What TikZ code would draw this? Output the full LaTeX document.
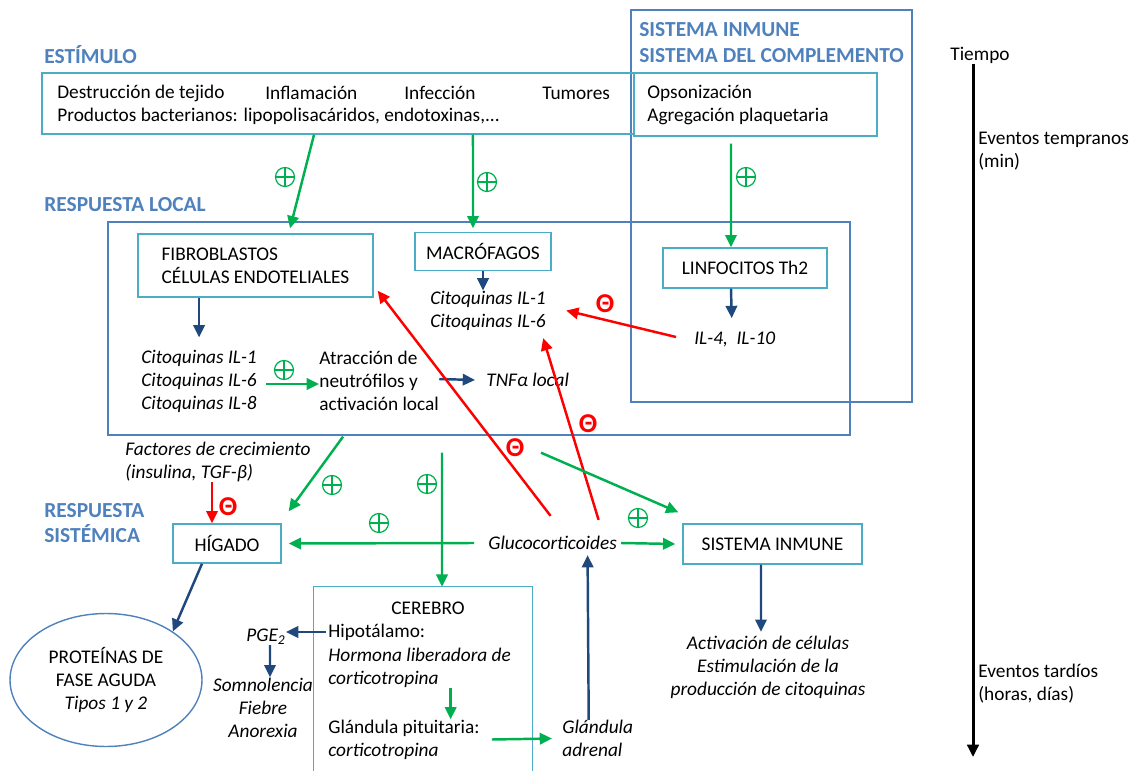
\documentclass[tikz,border=0pt]{standalone}
\usepackage{fontspec}
\setmainfont{Carlito}
\usepackage{tikz}
\usetikzlibrary{arrows.meta,shapes}

\definecolor{hblue}{HTML}{4F81BD}
\definecolor{tblue}{HTML}{4BACC6}
\definecolor{dblue}{HTML}{1F497D}
\definecolor{ggreen}{HTML}{00B050}

\begin{document}
\begin{tikzpicture}[x=0.02cm, y=-0.02cm,
  every node/.style={font=\fontsize{11}{13.1}\selectfont, inner sep=0pt},
  hdr/.style={anchor=west, align=left, text=hblue, font=\fontsize{12.2}{14.4}\selectfont\bfseries},
  txt/.style={anchor=west, align=left},
  itxt/.style={txt, font=\fontsize{11}{13.1}\selectfont\itshape},
  ctxt/.style={align=center, font=\fontsize{11}{13.1}\selectfont\itshape},
  cbox/.style={draw=tblue, line width=0.8pt},
  frame/.style={draw=hblue, line width=0.8pt},
  garrow/.style={ggreen, line width=1.4pt, -{Triangle[length=7pt,width=6.5pt]}},
  barrow/.style={garrow, dblue},
  rarrow/.style={garrow, red},
  tarrow/.style={garrow, black, line width=1.7pt},
  plus/.style={circle, draw=ggreen, line width=0.7pt, minimum size=0.38cm,
    path picture={\draw[ggreen, line width=0.7pt]
      (path picture bounding box.north) -- (path picture bounding box.south)
      (path picture bounding box.west) -- (path picture bounding box.east);}},
  minus/.style={text=red, font=\fontsize{15.5}{15.5}\selectfont\bfseries},
]

\useasboundingbox (0,0) rectangle (1137,771);

\node[frame, minimum width=5.62cm, minimum height=7.84cm] (sysfr) at (771.5,206) {};
\node[frame, minimum width=14.84cm, minimum height=4.26cm] (loc) at (479,328.5) {};

\node[hdr] (est-h) at (44,55) {ESTÍMULO};
\node[hdr] (loc-h) at (44,205) {RESPUESTA LOCAL};
\node[hdr] (sis-h) at (44,523) {RESPUESTA\\SISTÉMICA};
\node[hdr] (inm-h) at (639,42.5) {SISTEMA INMUNE\\SISTEMA DEL COMPLEMENTO};

\node[cbox, minimum width=11.84cm, minimum height=1.22cm] (estim) at (338,103.5) {};
\node[txt] (destr) at (57,93) {Destrucción de tejido};
\node[txt] (infl) at (265,93) {Inflamación};
\node[txt] (infec) at (404,93) {Infección};
\node[txt] (tum) at (542,93) {Tumores};
\node[txt] (prod) at (57,116) {Productos bacterianos: lipopolisacáridos, endotoxinas,...};

\node[cbox, minimum width=4.86cm, minimum height=1.26cm] (opso) at (755.5,104.5) {};
\node[txt] (opso-t) at (647,105.5) {Opsonización\\Agregación plaquetaria};

\node[cbox, align=left, minimum width=4.7cm, minimum height=1.26cm] (fib) at (255.5,265.5) {FIBROBLASTOS\\CÉLULAS ENDOTELIALES};
\node[cbox, minimum width=2.72cm, minimum height=0.76cm] (macro) at (483,251.5) {MACRÓFAGOS};
\node[cbox, minimum width=3.28cm, minimum height=0.8cm] (linf) at (745,268) {LINFOCITOS Th2};

\node[itxt] (cit-f) at (141,381) {Citoquinas IL-1\\Citoquinas IL-6\\Citoquinas IL-8};
\node[txt] (atr) at (319,381) {Atracción de\\neutrófilos y\\activación local};
\node[itxt] (tnf) at (486,380) {TNFα local};
\node[itxt] (cit-m) at (430,310.5) {Citoquinas IL-1\\Citoquinas IL-6};
\node[itxt] (il4) at (694,339) {IL-4,~ IL-10};

\node[itxt] (fact) at (125,462) {Factores de crecimiento\\(insulina, TGF-β)};
\node[cbox, minimum width=2.16cm, minimum height=0.78cm] (hig) at (227,543.5) {HÍGADO};
\node[itxt] (gluco) at (488,543) {Glucocorticoides};
\node[cbox, minimum width=3.58cm, minimum height=0.8cm] (sisinm) at (772.5,544) {SISTEMA INMUNE};
\node[ctxt] (act) at (768,667) {Activación de células\\Estimulación de la\\producción de citoquinas};

\node[ellipse, frame, align=center, minimum width=3.84cm, minimum height=2.66cm] (prot) at (106,680) {PROTEÍNAS DE\\FASE AGUDA\\\textit{Tipos 1 y 2}};

\node[minimum width=4.36cm, minimum height=3.72cm] (cer) at (423,680) {};
\draw[cbox] (cer.south west) |- (cer.north east) -- (cer.south east);
\node (cer-t) at (428,608) {CEREBRO};
\node[txt] (hip) at (328,632) {Hipotálamo:};
\node[itxt] (hor) at (328,668) {Hormona liberadora de\\corticotropina};
\node[txt] (pit) at (328,739.5) {Glándula pituitaria:\\\textit{corticotropina}};
\node[ctxt] (pge) at (266,637) {PGE\textsubscript{2}};
\node[ctxt] (som) at (263,707.5) {Somnolencia\\Fiebre\\Anorexia};
\node[itxt] (adr) at (562,738.5) {Glándula\\adrenal};

\node[txt] (tiempo) at (950,55) {Tiempo};
\node[txt] (early) at (978,151.5) {Eventos tempranos\\(min)};
\node[txt] (late) at (978,683.5) {Eventos tardíos\\(horas, días)};
\coordinate (tend) at (973,757);

\node[plus] (p1) at (285,177) {};
\node[plus] (p2) at (487,182) {};
\node[plus] (p3) at (746,177) {};
\node[plus] (p4) at (284,370) {};
\node[plus] (p5) at (332,485) {};
\node[plus] (p6) at (427,484) {};
\node[plus] (p7) at (379,523) {};
\node[plus] (p8) at (638,518) {};

\node[minus] (m1) at (605,304) {Θ};
\node[minus] (m2) at (588,424) {Θ};
\node[minus] (m3) at (515,448) {Θ};
\node[minus] (m4) at (228,507) {Θ};

\draw[garrow] ([xshift=-0.48cm]estim.south) -- ([xshift=-3.78cm,yshift=-0.14cm]loc.north);
\draw[garrow] ([xshift=2.7cm]estim.south) -- ([xshift=-0.12cm,yshift=-0.14cm]loc.north);
\draw[garrow] ([xshift=-0.49cm,yshift=-0.14cm]opso.south) -- ([xshift=-0.28cm]linf.north);
\draw[barrow] ([xshift=-0.28cm]linf.south) -- ([xshift=-0.06cm,yshift=0.26cm]il4.north);
\draw[rarrow] ([xshift=-0.36cm,yshift=0.04cm]il4.west) -- ([xshift=0.4cm]cit-m.east);

\draw[barrow] (fib.south -| cit-f.north) -- ([yshift=0.24cm]cit-f.north);
\draw[garrow] ([xshift=0.18cm,yshift=-0.06cm]cit-f.east) -- ([yshift=-0.06cm]atr.west);
\draw[barrow] ([yshift=0.04cm]atr.east) -- ([xshift=-0.22cm]tnf.west);
\draw[barrow] (macro.south) -- (macro.south |- cit-m.north);

\draw[rarrow] ([xshift=-0.04cm,yshift=0.4cm]gluco.north) -- ([xshift=0.08cm,yshift=0.14cm]fib.south east);
\draw[rarrow] ([xshift=0.92cm,yshift=0.32cm]gluco.north) -- ([xshift=-0.06cm,yshift=-0.15cm]cit-m.south east);

\draw[garrow] ([xshift=-2.72cm,yshift=-0.02cm]loc.south) -- ([xshift=0.14cm,yshift=0.24cm]hig.north east);
\draw[garrow] ([xshift=-0.74cm,yshift=-0.34cm]loc.south) -- ([xshift=0.38cm]cer.north);
\draw[garrow] ([xshift=1.24cm,yshift=-0.34cm]loc.south) -- ([xshift=-0.08cm,yshift=0.22cm]sisinm.north west);
\draw[garrow] ([xshift=-0.28cm]gluco.west) -- ([xshift=0.14cm]hig.east);
\draw[garrow] ([xshift=0.08cm]gluco.east) -- ([xshift=-0.14cm]sisinm.west);
\draw[barrow] ([xshift=-0.23cm]sisinm.south) -- ([xshift=-0.14cm,yshift=0.07cm]act.north);

\draw[rarrow] ([xshift=-0.12cm]fact.south) -- ([xshift=-0.12cm]fact.south |- hig.north);
\draw[barrow] ([xshift=-0.5cm]hig.south) -- (prot.36);

\draw[barrow] ([xshift=-0.04cm]hip.west) -- (pge.east |- hip.west);
\draw[barrow] ([xshift=0.08cm]pge.south) -- ([xshift=0.14cm]som.north);
\coordinate (hx) at ([xshift=0.62cm]hor.south);
\draw[garrow] (hx) -- (hx |- pit.north);
\draw[garrow] ([xshift=0.24cm]pit.east) -- ([xshift=-0.2cm]adr.west);
\draw[barrow] ([xshift=-0.18cm]adr.north) -- ([xshift=0.7cm,yshift=-0.1cm]gluco.south);

\draw[tarrow] (tiempo.south -| tend) -- (tend);

\end{tikzpicture}
\end{document}
